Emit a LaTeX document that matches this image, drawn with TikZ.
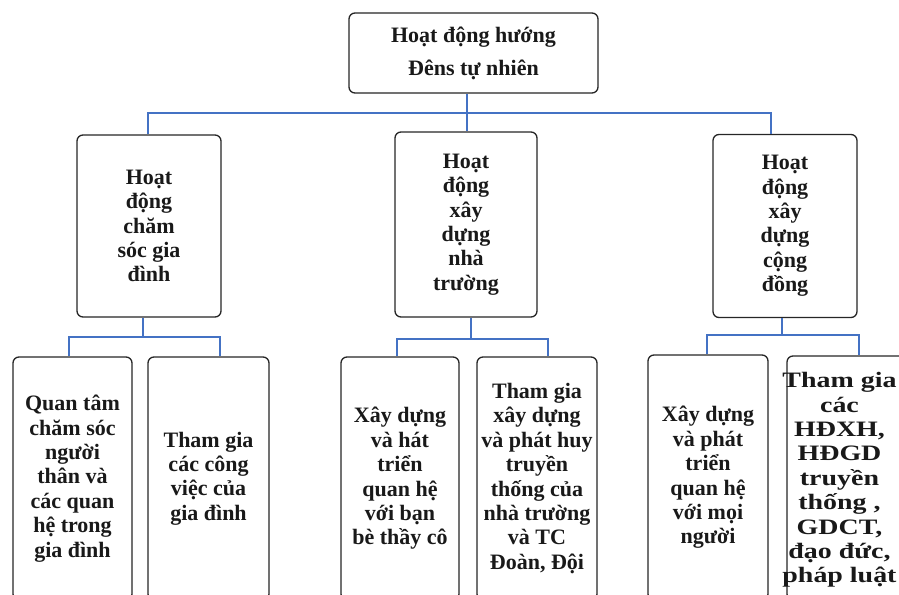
\documentclass[tikz,border=0pt]{standalone}
\usepackage{fontspec}
\setmainfont{Liberation Serif}
\newfontfamily\widebold[FakeStretch=1.27]{Liberation Serif}
\definecolor{linkblue}{RGB}{68,114,196}
\begin{document}
\begin{tikzpicture}[x=1pt,y=-1pt,
  box/.style={draw=black!85, line width=1.3pt, rounded corners=6pt, fill=white,
    inner sep=0pt, align=center, text=black!90,
    font={\fontsize{22}{24.4}\selectfont\bfseries}},
  label/.style={inner sep=0pt, align=center, text=black!90,
    font={\fontsize{22}{24.4}\selectfont\bfseries}},
  link/.style={draw=linkblue, line width=2.6pt, line join=miter}]
\useasboundingbox (0,0) rectangle (899,594);
\clip (0,0) rectangle (899,594);

% root
\node[box, minimum width=249, minimum height=80,
  font={\fontsize{22}{33}\selectfont\bfseries}] (top) at (473.5,53)
  {Hoạt động hướng\\Đêns tự nhiên};

% second level
\node[box, minimum width=144, minimum height=182] (mL) at (149,226)
  {Hoạt\\động\\chăm\\sóc gia\\đình};
\node[box, minimum width=142, minimum height=185] (mM) at (466,224.5)
  {Hoạt\\động\\xây\\dựng\\nhà\\trường};
\node[box, minimum width=144, minimum height=183] (mR) at (785,226)
  {Hoạt\\động\\xây\\dựng\\cộng\\đồng};

% third level
\node[box, minimum width=119, minimum height=243] (b1) at (72.5,478.5)
  {Quan tâm\\chăm sóc\\người\\thân và\\các quan\\hệ trong\\gia đình};
\node[box, minimum width=121, minimum height=243] (b2) at (208.5,478.5)
  {Tham gia\\các công\\việc của\\gia đình};
\node[box, minimum width=118, minimum height=243] (b3) at (400,478.5)
  {Xây dựng\\và hát\\triển\\quan hệ\\với bạn\\bè thầy cô};
\node[box, minimum width=120, minimum height=243] (b4) at (537,478.5)
  {Tham gia\\xây dựng\\và phát huy\\truyền\\thống của\\nhà trường\\và TC\\Đoàn, Đội};
\node[box, minimum width=120, minimum height=245] (b5) at (708,477.5)
  {Xây dựng\\và phát\\triển\\quan hệ\\với mọi\\người};
\node[box, minimum width=118, minimum height=244] (b6) at (846,478) {};
\node[label, font={\fontsize{22}{24.4}\selectfont\widebold\bfseries}] (b6t) at (839.5,480)
  {Tham gia\\các\\HĐXH,\\HĐGD\\truyền\\thống ,\\GDCT,\\đạo đức,\\pháp luật};

% root to second level
\coordinate (h0) at (467,113);
\coordinate (h1) at (148,113);
\coordinate (h3) at (771,113);
\draw[link] (top.south -| h0) -- (h0);
\draw[link] (h1 |- mL.north) -- (h1) -- (h3) -- (h3 |- mR.north);
\draw[link] (h0) -- (h0 |- mM.north);

% family branch
\coordinate (sL) at (143,337);
\coordinate (dL1) at (69,337);
\coordinate (dL2) at (220,337);
\draw[link] (sL |- mL.south) -- (sL);
\draw[link] (dL1 |- b1.north) -- (dL1) -- (dL2) -- (dL2 |- b2.north);

% school branch
\coordinate (sM) at (471,339);
\coordinate (dM1) at (397,339);
\coordinate (dM2) at (548,339);
\draw[link] (sM |- mM.south) -- (sM);
\draw[link] (dM1 |- b3.north) -- (dM1) -- (dM2) -- (dM2 |- b4.north);

% community branch
\coordinate (sR) at (782,335);
\coordinate (dR1) at (707,335);
\coordinate (dR2) at (859,335);
\draw[link] (sR |- mR.south) -- (sR);
\draw[link] (dR1 |- b5.north) -- (dR1) -- (dR2) -- (dR2 |- b6.north);
\end{tikzpicture}
\end{document}
